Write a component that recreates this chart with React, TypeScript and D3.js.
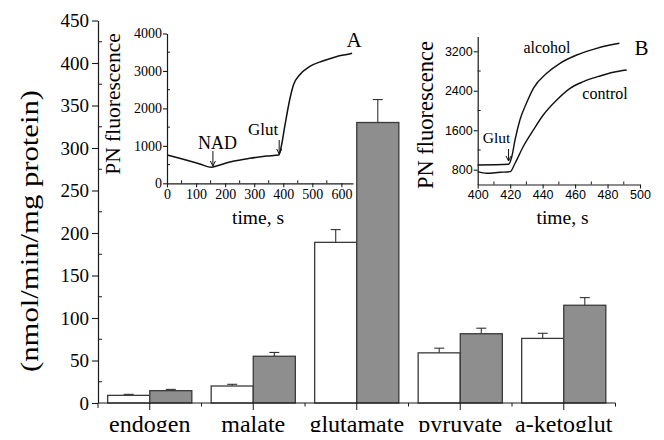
import { useEffect, useRef } from 'react';
import * as d3 from 'd3';

// main bar chart: NAD(P)H production rate per substrate
const categories = ['endogen', 'malate', 'glutamate', 'pyruvate', 'a-ketoglut'];
const groups = ['control', 'alcohol'];
const controlRate = [9, 20, 189, 59, 76];
const controlErr = [1.2, 2, 15, 5.5, 6];
const alcoholRate = [14.5, 55, 330, 81.5, 115];
const alcoholErr = [1.5, 4.5, 27, 6.5, 9];
const rateTicks = [0, 50, 100, 150, 200, 250, 300, 350, 400, 450];
const rateMinor = [25, 75, 125, 175, 225, 275, 325, 375, 425];

// inset A trace
const traceATime = [1, 56, 113, 153, 170, 227, 285, 342, 385, 393, 405, 422, 435, 456, 490, 536, 582, 627, 637];
const traceAValue = [756, 640, 515, 427, 462, 587, 667, 729, 756, 977, 1511, 2224, 2625, 2892, 3115, 3266, 3381, 3453, 3471];
const insetATicksX = [0, 100, 200, 300, 400, 500, 600];
const insetAMinorX = [50, 150, 250, 350, 450, 550];
const insetATicksY = [0, 1000, 2000, 3000, 4000];
const insetAMinorY = [500, 1500, 2500, 3500];

// inset B traces
const alcoholTime = [400, 419, 421, 423, 426, 430, 434.3, 442.5, 450.7, 461, 471.2, 481.5, 487.3];
const alcoholValue = [895, 909, 1063, 1402, 1807, 2146, 2450, 2754, 2957, 3125, 3240, 3328, 3362];
const controlTime = [400, 405.5, 413.7, 420, 423, 428, 434.3, 440.4, 448.7, 456.9, 465.1, 475.4, 483.6, 491.8];
const controlValue = [760, 727, 747, 760, 930, 1266, 1605, 1909, 2213, 2450, 2584, 2700, 2775, 2821];
const insetBTicksX = [400, 420, 440, 460, 480, 500];
const insetBMinorX = [410, 430, 450, 470, 490];
const insetBTicksY = [800, 1600, 2400, 3200];
const insetBMinorY = [1200, 2000, 2800];

const SERIF = '"Liberation Serif", "Times New Roman", serif';
const SANS = '"Liberation Sans", Arial, sans-serif';
const AXIS = '#1a1a1a';

function styleAxis(g, font, size) {
  g.attr('font-family', null);
  g.selectAll('path.domain').attr('stroke', AXIS).attr('stroke-width', 1.2);
  g.selectAll('.tick line').attr('stroke', AXIS).attr('stroke-width', 1.1);
  g.selectAll('.tick text').attr('fill', '#000').style('font-family', font).style('font-size', size + 'px');
}

function minorTicks(g, vals, pos, size) {
  g.selectAll(null)
    .data(vals)
    .enter()
    .append('line')
    .each(function (d) {
      const p = pos(d);
      d3.select(this)
        .attr('x1', p.x).attr('y1', p.y)
        .attr('x2', p.x + (size.dx || 0)).attr('y2', p.y + (size.dy || 0));
    })
    .attr('stroke', AXIS)
    .attr('stroke-width', 1);
}

function arrow(svg, x, y1, y2) {
  svg.append('line').attr('x1', x).attr('x2', x).attr('y1', y1).attr('y2', y2)
    .attr('stroke', '#111').attr('stroke-width', 1);
  svg.append('path')
    .attr('d', `M${x - 2.5},${y2 - 5} L${x},${y2} L${x + 2.5},${y2 - 5}`)
    .attr('fill', 'none').attr('stroke', '#111').attr('stroke-width', 1);
}

function App() {
  const ref = useRef(null);

  useEffect(() => {
    const root = d3.select(ref.current);
    root.selectAll('*').remove();
    const svg = root.append('svg').attr('width', 664).attr('height', 440)
      .style('display', 'block').style('background', '#fff');
    const fmt = d3.format('d');

    // ---------- main bar chart ----------
    const y = d3.scaleLinear().domain([0, 450]).range([403, 20.5]);
    const x0 = d3.scaleBand().domain(categories).range([98, 615.5]);
    const x1 = d3.scaleBand().domain(groups).range([0, x0.bandwidth()]).paddingOuter(0.23);

    const rows = categories.map((c, i) => ({
      cat: c,
      vals: [
        { g: 'control', v: controlRate[i], e: controlErr[i], fill: '#ffffff' },
        { g: 'alcohol', v: alcoholRate[i], e: alcoholErr[i], fill: '#8e8e8e' },
      ],
    }));

    const grp = svg.append('g').selectAll('g').data(rows).enter().append('g')
      .attr('transform', (d) => `translate(${x0(d.cat)},0)`);

    // error bars first so the bar covers the lower stem
    grp.selectAll('g.err').data((d) => d.vals).enter().append('g').attr('class', 'err')
      .each(function (d) {
        const cx = x1(d.g) + x1.bandwidth() / 2;
        const g = d3.select(this);
        g.append('line').attr('x1', cx).attr('x2', cx).attr('y1', y(d.v)).attr('y2', y(d.v + d.e))
          .attr('stroke', '#333').attr('stroke-width', 1.1);
        g.append('line').attr('x1', cx - 5).attr('x2', cx + 5).attr('y1', y(d.v + d.e)).attr('y2', y(d.v + d.e))
          .attr('stroke', '#333').attr('stroke-width', 1.1);
      });

    grp.selectAll('rect').data((d) => d.vals).enter().append('rect')
      .attr('x', (d) => x1(d.g))
      .attr('y', (d) => y(d.v))
      .attr('width', x1.bandwidth())
      .attr('height', (d) => y(0) - y(d.v))
      .attr('fill', (d) => d.fill)
      .attr('stroke', '#3a3a3a')
      .attr('stroke-width', 1.3);

    const yAxis = svg.append('g').attr('transform', 'translate(98,0)')
      .call(d3.axisLeft(y).tickValues(rateTicks).tickSize(6).tickSizeOuter(0).tickPadding(3).tickFormat(fmt));
    styleAxis(yAxis, SERIF, 19);
    minorTicks(svg.append('g'), rateMinor, (d) => ({ x: 98, y: y(d) }), { dx: 4 });

    // category axis
    const xAxisG = svg.append('g');
    xAxisG.append('line').attr('x1', 98).attr('x2', 615.5).attr('y1', 403).attr('y2', 403)
      .attr('stroke', AXIS).attr('stroke-width', 1.2);
    minorTicks(xAxisG, categories, (d) => ({ x: x0(d) + x0.bandwidth() / 2, y: 403 }), { dy: 7 });
    minorTicks(xAxisG, categories.slice(1).concat(['end']),
      (d) => ({ x: d === 'end' ? 615.5 : x0(d), y: 403 }), { dy: 3.5 });
    minorTicks(xAxisG, ['start'], () => ({ x: 98, y: 403 }), { dy: 5 });
    xAxisG.selectAll('text.cat').data(categories).enter().append('text').attr('class', 'cat')
      .attr('x', (d) => x0(d) + x0.bandwidth() / 2)
      .attr('y', 432)
      .attr('text-anchor', 'middle')
      .style('font-family', SERIF).style('font-size', '24px')
      .text((d) => d);

    svg.append('text')
      .attr('transform', 'translate(38,231) rotate(-90)')
      .attr('text-anchor', 'middle')
      .attr('textLength', 282).attr('lengthAdjust', 'spacingAndGlyphs')
      .style('font-family', SERIF).style('font-size', '25px')
      .text('(nmol/min/mg protein)');

    // ---------- inset A ----------
    const ax = d3.scaleLinear().domain([0, 640]).range([167, 353]);
    const ay = d3.scaleLinear().domain([0, 4000]).range([183.3, 33.5]);
    const aX = svg.append('g').attr('transform', 'translate(0,183.3)')
      .call(d3.axisBottom(ax).tickValues(insetATicksX).tickSize(4).tickSizeOuter(0).tickPadding(2).tickFormat(fmt));
    styleAxis(aX, SERIF, 14);
    const aY = svg.append('g').attr('transform', 'translate(167,0)')
      .call(d3.axisLeft(ay).tickValues(insetATicksY).tickSize(4).tickSizeOuter(0).tickPadding(1).tickFormat(fmt));
    styleAxis(aY, SERIF, 14);
    minorTicks(svg.append('g'), insetAMinorX, (d) => ({ x: ax(d), y: 183.3 }), { dy: -3 });
    minorTicks(svg.append('g'), insetAMinorY, (d) => ({ x: 167, y: ay(d) }), { dx: 3 });

    const lineA = d3.line().x((d) => ax(d[0])).y((d) => ay(d[1])).curve(d3.curveMonotoneX);
    svg.append('path').datum(traceATime.map((t, i) => [t, traceAValue[i]]))
      .attr('d', lineA).attr('fill', 'none').attr('stroke', '#111').attr('stroke-width', 1.5);

    arrow(svg, ax(158), 151, 166);
    arrow(svg, ax(386), 140, 154);
    const label = (txt, xx, yy, size, anchor = 'middle', font = SERIF) =>
      svg.append('text').attr('x', xx).attr('y', yy).attr('text-anchor', anchor)
        .style('font-family', font).style('font-size', size + 'px').text(txt);
    label('NAD', 217.5, 148.5, 18);
    label('Glut', 263, 135, 17);
    label('A', 354, 46.5, 21);
    label('time, s', 258, 224, 19.5);
    svg.append('text').attr('transform', 'translate(120,104) rotate(-90)').attr('text-anchor', 'middle')
      .style('font-family', SERIF).style('font-size', '21.5px').text('PN fluorescence');

    // ---------- inset B ----------
    const bx = d3.scaleLinear().domain([400, 500]).range([477.7, 640]);
    const by = d3.scaleLinear().domain([500, 3500]).range([184.5, 36.5]);
    const bX = svg.append('g').attr('transform', 'translate(0,184.5)')
      .call(d3.axisBottom(bx).tickValues(insetBTicksX).tickSize(4).tickSizeOuter(0).tickPadding(2).tickFormat(fmt));
    styleAxis(bX, SANS, 12.5);
    const bY = svg.append('g').attr('transform', 'translate(477.7,0)')
      .call(d3.axisLeft(by).tickValues(insetBTicksY).tickSize(4).tickSizeOuter(0).tickPadding(1).tickFormat(fmt));
    styleAxis(bY, SANS, 12.5);
    minorTicks(svg.append('g'), insetBMinorX, (d) => ({ x: bx(d), y: 184.5 }), { dy: -3 });
    minorTicks(svg.append('g'), insetBMinorY, (d) => ({ x: 477.7, y: by(d) }), { dx: 3 });

    const lineB = d3.line().x((d) => bx(d[0])).y((d) => by(d[1])).curve(d3.curveMonotoneX);
    svg.append('path').datum(alcoholTime.map((t, i) => [t, alcoholValue[i]]))
      .attr('d', lineB).attr('fill', 'none').attr('stroke', '#111').attr('stroke-width', 1.4);
    svg.append('path').datum(controlTime.map((t, i) => [t, controlValue[i]]))
      .attr('d', lineB).attr('fill', 'none').attr('stroke', '#111').attr('stroke-width', 1.4);

    arrow(svg, bx(419), 149, 161);
    label('Glut', 496.5, 143, 15.5);
    label('alcohol', 547, 53, 16);
    label('control', 605, 99, 16);
    label('B', 641.5, 55, 21);
    label('time, s', 562.5, 224, 19.5);
    svg.append('text').attr('transform', 'translate(433,115) rotate(-90)').attr('text-anchor', 'middle')
      .style('font-family', SERIF).style('font-size', '22.5px').text('PN fluorescence');
  }, []);

  return <div ref={ref} style={{ margin: -8 }}></div>;
}

export default App;
